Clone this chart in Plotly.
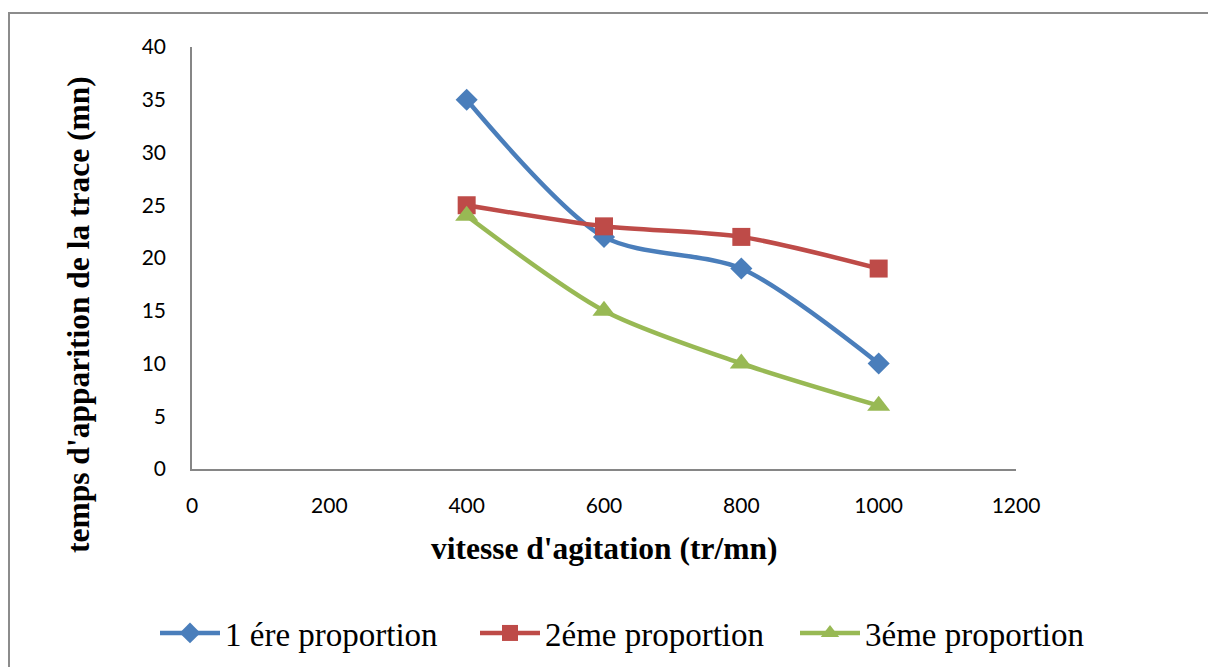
import plotly.graph_objects as go

# Agitation speed (tr/mn) and appearance time of the trace (mn)
vitesse = [400, 600, 800, 1000]
prop1 = [35, 22, 19, 10]
prop2 = [25, 23, 22, 19]
prop3 = [24, 15, 10, 6]

series = [
    ("1 ére proportion", prop1, "#4A7EBB", "diamond", 17, "legend"),
    ("2éme proportion", prop2, "#BE4B48", "square", 18, "legend2"),
    ("3éme proportion", prop3, "#98B954", "triangle-up", 20, "legend3"),
]

fig = go.Figure()
for name, vals, color, symbol, size, leg in series:
    fig.add_trace(go.Scatter(
        x=vitesse, y=vals, name=name, mode="lines+markers", legend=leg,
        line=dict(color=color, width=4.5, shape="spline", smoothing=0.8),
        marker=dict(symbol=symbol, size=size, color=color),
    ))

W, H = 1208, 667
L, R, T, B = 192, 192, 47, 198
pw, ph = W - L - R, H - T - B

def px_x(px):
    return (px - L) / pw

def px_y(py):
    return (H - B - py) / ph

fig.add_shape(type="rect", xref="paper", yref="paper",
              x0=px_x(9), x1=px_x(1230), y0=px_y(690), y1=px_y(13),
              line=dict(color="#8C8C8C", width=2), layer="below")

tick_font = dict(family="Lato, Carlito, sans-serif", size=21, color="#000000")
title_font = dict(family="Liberation Serif, Times New Roman, serif", size=31.5, color="#000000")
legend_font = dict(family="Liberation Serif, Times New Roman, serif", size=33, color="#000000")

# Axis titles placed as annotations
fig.add_annotation(text="<b>vitesse d'agitation (tr/mn)</b>", xref="paper", yref="paper",
                   x=px_x(604), y=px_y(548), xanchor="center", yanchor="middle",
                   showarrow=False, font=title_font)
fig.add_annotation(text="<b>temps d'apparition de la trace (mn)</b>", xref="paper", yref="paper",
                   x=px_x(78), y=px_y(315), xanchor="center", yanchor="middle",
                   textangle=-90, showarrow=False, font=title_font)

def legend_box(left_px):
    return dict(orientation="h", x=px_x(left_px), xanchor="left", y=px_y(633), yanchor="middle",
                font=legend_font, itemwidth=60, bgcolor="rgba(0,0,0,0)")

fig.update_layout(
    width=W, height=H,
    margin=dict(l=L, r=R, t=T, b=B, autoexpand=False),
    paper_bgcolor="white", plot_bgcolor="white",
    showlegend=True,
    legend=legend_box(155),
    legend2=legend_box(475),
    legend3=legend_box(795),
    xaxis=dict(range=[0, 1200], dtick=200, showgrid=False, zeroline=False, automargin=False,
               showline=True, linecolor="#868686", linewidth=1.5,
               ticks="outside", ticklen=17, tickcolor="rgba(0,0,0,0)",
               tickfont=tick_font),
    yaxis=dict(range=[0, 40], dtick=5, showgrid=False, zeroline=False, automargin=False,
               showline=True, linecolor="#868686", linewidth=1.5,
               ticks="outside", ticklen=20, tickcolor="rgba(0,0,0,0)",
               tickfont=tick_font),
)

fig.write_html("out.html")
